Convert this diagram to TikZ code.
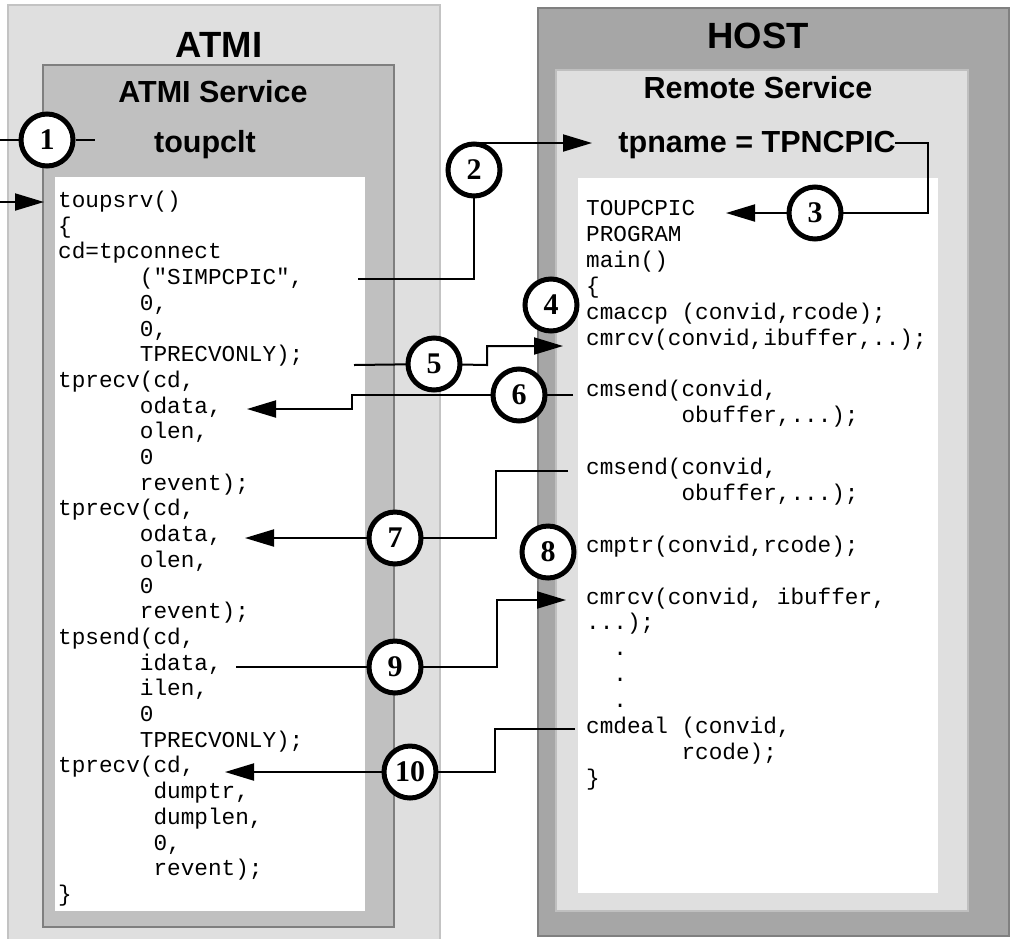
\documentclass[tikz,border=0pt]{standalone}
\usepackage{fontspec}
\setmainfont{Liberation Sans}
\newfontfamily\codefont{Liberation Mono}
\newfontfamily\numfont{Liberation Serif}
\usetikzlibrary{arrows.meta}
\definecolor{atmibg}{HTML}{DFDFDF}
\definecolor{atmiln}{HTML}{C3C3C3}
\definecolor{svcbg}{HTML}{C0C0C0}
\definecolor{svcln}{HTML}{7F7F7F}
\definecolor{hostbg}{HTML}{A6A6A6}
\definecolor{hostln}{HTML}{808080}
\definecolor{rembg}{HTML}{DFDFDF}
\definecolor{remln}{HTML}{BFBFBF}
\pgfdeclarelayer{back}
\pgfdeclarelayer{mid}
\pgfsetlayers{back,mid,main}
\begin{document}
\begin{tikzpicture}[x=1pt,y=-1pt,
  title/.style={font=\fontsize{36.5}{40}\selectfont\bfseries, inner sep=0pt, anchor=base},
  sub/.style={font=\fontsize{30.5}{34}\selectfont\bfseries, inner sep=0pt, anchor=base},
  code/.style={font=\codefont\fontsize{22.7}{26}\selectfont, inner sep=0pt, anchor=west, text height=16pt, text depth=5pt},
  num/.style={circle, draw, line width=5pt, fill=white, minimum size=52pt, inner sep=0pt, font=\numfont\bfseries\fontsize{30}{30}\selectfont},
  conn/.style={line width=2pt},
  arr/.style={conn, -{Triangle[length=29pt,width=17pt]}},
]
\useasboundingbox (0,0) rectangle (1011,938);
\clip (0,0) rectangle (1011,938);

\begin{pgfonlayer}{back}
\draw[atmiln, fill=atmibg, line width=1.5pt] (8,5) rectangle (440,950);
\draw[svcln, fill=svcbg, line width=2pt] (43,65) rectangle (394,927);
\fill[white] (55,177) rectangle (365,911);
\draw[hostln, fill=hostbg, line width=2pt] (538,8) rectangle (1009,936);
\draw[remln, fill=rembg, line width=2pt] (556,70) rectangle (968,911);
\fill[white] (578,178) rectangle (938,893);
\end{pgfonlayer}

% titles
\node[title] (atmi) at (219,57) {ATMI};
\node[title] (host) at (758,48) {HOST};
\node[sub] (svc) at (213,102) {ATMI Service};
\node[sub] (clt) at (205,152) {toupclt};
\node[sub] (rem) at (758,98) {Remote Service};
\node[sub] (tpn) at (757,152) {tpname = TPNCPIC};

% left code
\foreach \i/\ind/\t in {
  0/0/{toupsrv()}, 1/0/{\{}, 2/0/{cd=tpconnect}, 3/6/{("SIMPCPIC",}, 4/6/{0,}, 5/6/{0,},
  6/6/{TPRECVONLY);}, 7/0/{tprecv(cd,}, 8/6/{odata,}, 9/6/{olen,}, 10/6/{0}, 11/6/{revent);},
  12/0/{tprecv(cd,}, 13/6/{odata,}, 14/6/{olen,}, 15/6/{0}, 16/6/{revent);},
  17/0/{tpsend(cd,}, 18/6/{idata,}, 19/6/{ilen,}, 20/6/{0}, 21/6/{TPRECVONLY);},
  22/0/{tprecv(cd,}, 23/7/{dumptr,}, 24/7/{dumplen,}, 25/7/{0,}, 26/7/{revent);}, 27/0/{\}}}
  \node[code] (l\i) at ({58+\ind*13.62},{202+25.7*\i}) {\t};

% right code
\foreach \i/\ind/\t in {
  0/0/{TOUPCPIC}, 1/0/{PROGRAM}, 2/0/{main()}, 3/0/{\{}, 4/0/{cmaccp (convid,rcode);},
  5/0/{cmrcv(convid,ibuffer,..);}, 7/0/{cmsend(convid,}, 8/7/{obuffer,...);},
  10/0/{cmsend(convid,}, 11/7/{obuffer,...);}, 13/0/{cmptr(convid,rcode);},
  15/0/{cmrcv(convid, ibuffer,}, 16/0/{...);}, 17/2/{.}, 18/2/{.}, 19/2/{.},
  20/0/{cmdeal (convid,}, 21/7/{rcode);}, 22/0/{\}}}
  \node[code] (r\i) at ({586+\ind*13.62},{210+25.9*\i}) {\t};

% step circles
\node[num] (c1) at (47,140) {1};
\node[num] (c2) at (474,170) {2};
\node[num] (c3) at (815,213) {3};
\node[num] (c4) at (551,305) {4};
\node[num] (c5) at (434,364) {5};
\node[num] (c6) at (519,395) {6};
\node[num] (c7) at (395,538) {7};
\node[num] (c8) at (548,552) {8};
\node[num] (c9) at (395,667) {9};
\node[num] (c10) at (410,772) {10};

% connector end points
\coordinate (in1) at (0,140);
\coordinate (o1) at (95,140);
\coordinate (in1b) at (0,202);
\coordinate (t1) at (44,202);
\coordinate (s2) at (358,279);
\coordinate (e2) at (592,143);
\coordinate (s3) at (895,143);
\coordinate (k3) at (928,213);
\coordinate (e3) at (726,213);
\coordinate (s5) at (354,365);
\coordinate (k5) at (487,365);
\coordinate (e5) at (563,346);
\coordinate (s6) at (573,395);
\coordinate (k6) at (352,395);
\coordinate (e6) at (247,409);
\coordinate (s7) at (568,471);
\coordinate (k7) at (496,538);
\coordinate (e7) at (245,538);
\coordinate (s9) at (236,667);
\coordinate (k9) at (497,667);
\coordinate (e9) at (566,600);
\coordinate (s10) at (575,729);
\coordinate (k10) at (495,772);
\coordinate (e10) at (225,772);

\begin{pgfonlayer}{mid}
\draw[conn] (in1) -- (c1) -- (o1);
\draw[arr] (in1b) -- (t1);
\draw[arr] (s2) -| (c2.center) |- (e2);
\draw[arr] (s3) -| (k3) -- (c3.center) -- (e3);
\draw[arr] (s5) -- (c5.center) -- (k5) |- (e5);
\draw[arr] (s6) -- (c6.center) -- (k6) |- (e6);
\draw[arr] (s7) -| (k7) -- (c7.center) -- (e7);
\draw[arr] (s9) -- (c9.center) -- (k9) |- (e9);
\draw[arr] (s10) -| (k10) -- (c10.center) -- (e10);
\end{pgfonlayer}
\end{tikzpicture}
\end{document}
